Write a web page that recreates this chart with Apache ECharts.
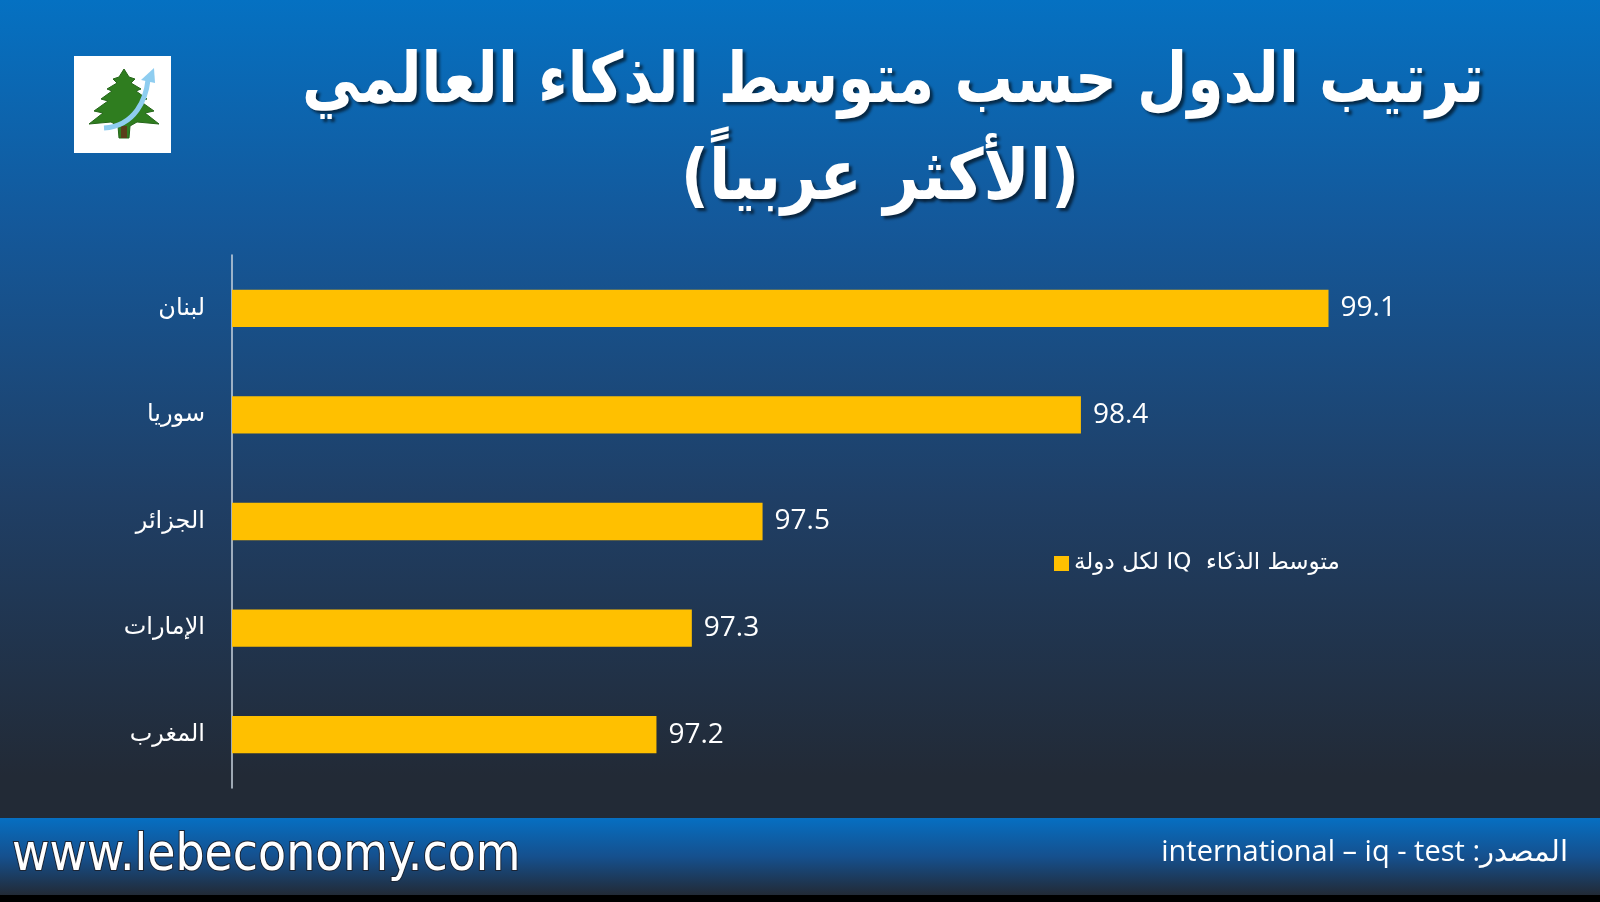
<!DOCTYPE html>
<html>
<head>
<meta charset="utf-8">
<script src="https://cdn.jsdelivr.net/npm/echarts@6/dist/echarts.min.js"></script>
<style>
html,body{margin:0;padding:0;background:#000;}
#c{width:1600px;height:902px;}
</style>
</head>
<body>
<div id="c" dir="rtl"></div>
<script>
const categories = ['لبنان', 'سوريا', 'الجزائر', 'الإمارات', 'المغرب'];
const values = [99.1, 98.4, 97.5, 97.3, 97.2];
const seriesName = 'متوسط الذكاء  IQ لكل دولة';
const titleLines = ['ترتيب الدول حسب متوسط الذكاء العالمي', '(الأكثر عربياً)'];
const siteText = 'www.lebeconomy.com';
const sourceText = 'المصدر: international – iq - test';

const chart = echarts.init(document.getElementById('c'), null, {renderer: 'canvas'});

const treePts = [[50,13],[55,21],[61,23],[57,27],[67,33],[62,35],[73,43],[66,45],[80,55],[71,57],[85,68],[63,66],[56,70],[55,82],[45,82],[44,70],[37,66],[15,68],[29,57],[20,55],[34,45],[27,43],[38,35],[33,33],[43,27],[39,23],[45,21]];

const titleStyle = {
  fill: '#ffffff', align: 'center', verticalAlign: 'middle',
  font: 'bold 66px "DejaVu Sans"',
  textShadowColor: 'rgba(0,0,0,0.6)', textShadowBlur: 3, textShadowOffsetX: 3, textShadowOffsetY: 3
};

chart.setOption({
  backgroundColor: {
    type: 'linear', x: 0, y: 0, x2: 0, y2: 1,
    colorStops: [
      {offset: 0, color: '#0571c2'},
      {offset: 0.25, color: '#14589a'},
      {offset: 0.55, color: '#1f3f66'},
      {offset: 0.86, color: '#222a36'},
      {offset: 1, color: '#222a36'}
    ]
  },
  animation: false,
  grid: {left: 232, top: 255, width: 1238, height: 533, containLabel: false},
  legend: {
    show: true,
    left: 1049, top: 547,
    itemWidth: 15, itemHeight: 15,
    icon: 'rect',
    textStyle: {color: '#ffffff', fontSize: 23, fontFamily: 'DejaVu Sans'},
    data: [seriesName]
  },
  xAxis: {
    type: 'value', min: 96, max: 99.5, show: false,
    splitLine: {show: false}
  },
  yAxis: {
    type: 'category', data: categories, inverse: true,
    axisLine: {show: true, lineStyle: {color: '#c9d3de', width: 1.5}},
    axisTick: {show: false},
    axisLabel: {color: '#ffffff', fontSize: 24, fontFamily: 'DejaVu Sans', margin: 27}
  },
  series: [{
    name: seriesName,
    type: 'bar',
    data: values,
    barCategoryGap: '65%',
    itemStyle: {color: '#ffc000'},
    label: {
      show: true, position: 'right', distance: 12,
      color: '#ffffff', fontSize: 28, fontFamily: 'Open Sans',
      formatter: p => p.value.toFixed(1)
    }
  }],
  graphic: [
    {
      type: 'rect', left: 0, top: 818, z: 0,
      shape: {width: 1600, height: 77},
      style: {fill: {type: 'linear', x: 0, y: 0, x2: 0, y2: 1, colorStops: [
        {offset: 0, color: '#066fc2'}, {offset: 0.5, color: '#15508e'}, {offset: 1, color: '#222a36'}]}}
    },
    {
      type: 'rect', left: 0, top: 895, z: 0,
      shape: {width: 1600, height: 7},
      style: {fill: '#000000'}
    },
    {
      type: 'group', x: 893, y: 84, scaleX: 0.88, scaleY: 1.06, z: 10,
      children: [{type: 'text', style: Object.assign({text: titleLines[0]}, titleStyle)}]
    },
    {
      type: 'group', x: 880, y: 181, scaleX: 0.94, scaleY: 1.06, z: 10,
      children: [{type: 'text', style: Object.assign({text: titleLines[1]}, titleStyle)}]
    },
    {
      type: 'text', x: 12, y: 857, z: 10,
      style: {
        text: siteText, fill: '#ffffff', align: 'left', verticalAlign: 'middle',
        font: '51px "DejaVu Sans Condensed"',
        stroke: '#1b2433', lineWidth: 2,
        textShadowColor: '#5b9bd5', textShadowBlur: 0, textShadowOffsetX: 2, textShadowOffsetY: 3
      }
    },
    {
      type: 'text', x: 1568, y: 853, z: 10,
      style: {
        text: sourceText, fill: '#ffffff', align: 'right', verticalAlign: 'middle',
        font: '29px "Open Sans"'
      }
    },
    {
      type: 'group', x: 74, y: 56, z: 10,
      children: [
        {type: 'rect', shape: {x: 0, y: 0, width: 97, height: 97}, style: {fill: '#ffffff'}},
        {type: 'polygon', shape: {points: treePts}, style: {fill: '#2f7d1f', stroke: '#25661a', lineWidth: 1}},
        {type: 'rect', shape: {x: 47, y: 70, width: 6, height: 12}, style: {fill: '#5a3d1a'}},
        {type: 'bezierCurve', shape: {x1: 30, y1: 72, cpx1: 62, cpy1: 70, cpx2: 72, cpy2: 42, x2: 74, y2: 24}, style: {stroke: '#8ecdf0', lineWidth: 5, fill: null}},
        {type: 'polygon', shape: {points: [[80,12],[67,24],[81,27]]}, style: {fill: '#8ecdf0'}}
      ]
    }
  ]
});
</script>
</body>
</html>
